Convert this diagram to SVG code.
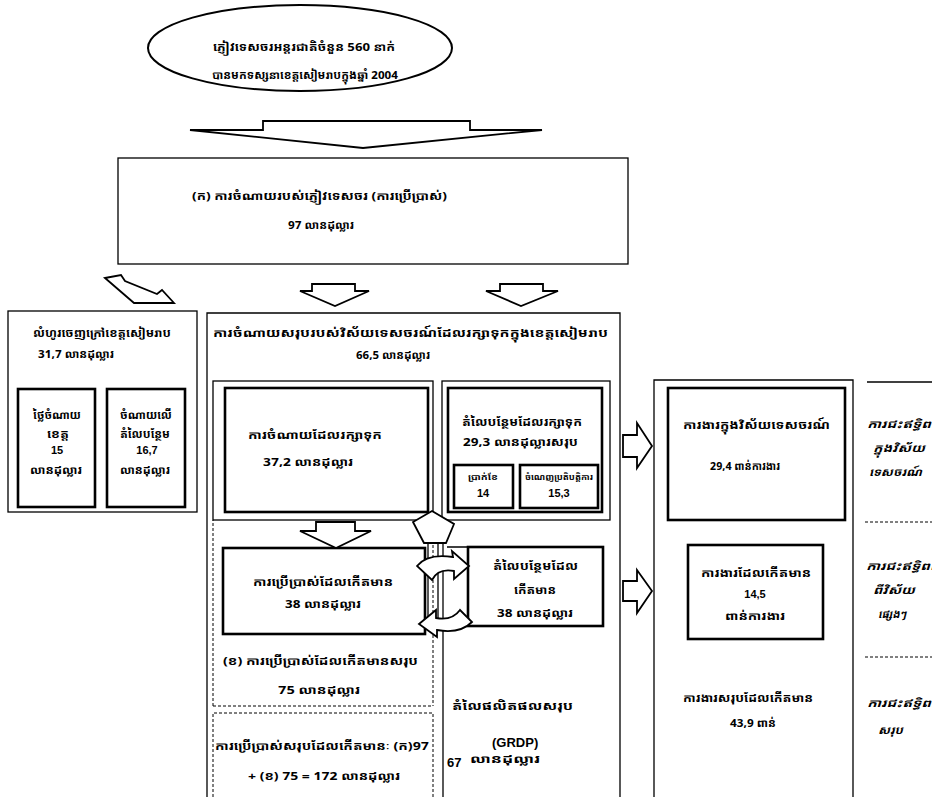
<svg xmlns="http://www.w3.org/2000/svg" width="932" height="797" viewBox="0 0 932 797">
<style>
  text{font-family:'Noto Sans Khmer','Khmer OS','Liberation Sans','DejaVu Sans',sans-serif;font-size:11px;font-weight:bold;fill:#000}
  .num{font-family:'Liberation Sans','DejaVu Sans',sans-serif;font-size:11px}
  .it{font-style:italic}
  .sm{font-size:8px}
  .f{fill:none;stroke:#000;stroke-width:1.3}
  .k{fill:#fff;stroke:#000;stroke-width:2.6}
  .d{fill:none;stroke:#000;stroke-width:1;stroke-dasharray:3 2}
  .a{fill:#fff;stroke:#000;stroke-width:1.8;stroke-linejoin:miter}
  .l{stroke:#000;stroke-width:1.3;fill:none}
</style>
<rect width="932" height="797" fill="#fff"/>

<g id="tourists">
  <ellipse cx="300" cy="48" rx="152" ry="43" fill="#fff" stroke="#000" stroke-width="2"/>
  <text x="213" y="51" textLength="182" lengthAdjust="spacingAndGlyphs">ភ្ញៀវទេសចរអន្តរជាតិចំនួន  560 នាក់</text>
  <text x="212" y="79" textLength="186" lengthAdjust="spacingAndGlyphs">បានមកទស្សនាខេត្តសៀមរាបក្នុងឆ្នាំ   2004</text>
</g>

<g id="spending">
  <rect x="118" y="158" width="510" height="106" class="f" stroke-width="2"/>
  <text x="192" y="200" textLength="255" lengthAdjust="spacingAndGlyphs">(ក) ការចំណាយរបស់ភ្ញៀវទេសចរ (ការប្រើប្រាស់)</text>
  <text x="288" y="229" textLength="66" lengthAdjust="spacingAndGlyphs">97  លានដុល្លារ</text>
</g>

<g id="outflow">
  <rect x="8" y="311" width="189" height="201" class="f"/>
  <text x="33" y="337" textLength="138" lengthAdjust="spacingAndGlyphs">លំហូរចេញក្រៅខេត្តសៀមរាប</text>
  <text x="38" y="358" textLength="76" lengthAdjust="spacingAndGlyphs">31,7 លានដុល្លារ</text>
</g>
<g id="outflow-a">
  <rect x="18" y="389" width="77" height="118" class="k"/>
  <text x="33" y="419" textLength="48" lengthAdjust="spacingAndGlyphs">ថ្លៃចំណាយ</text>
  <text x="47" y="438" textLength="22" lengthAdjust="spacingAndGlyphs">ខេត្ត</text>
  <text x="57" y="454" class="num" text-anchor="middle">15</text>
  <text x="30" y="474" textLength="52" lengthAdjust="spacingAndGlyphs">លានដុល្លារ</text>
</g>
<g id="outflow-b">
  <rect x="107" y="389" width="78" height="118" class="k"/>
  <text x="120" y="419" textLength="52" lengthAdjust="spacingAndGlyphs">ចំណាយលើ</text>
  <text x="120" y="438" textLength="50" lengthAdjust="spacingAndGlyphs">តំលៃបន្ថែម</text>
  <text x="147" y="454" class="num" text-anchor="middle">16,7</text>
  <text x="120" y="474" textLength="50" lengthAdjust="spacingAndGlyphs">លានដុល្លារ</text>
</g>

<g id="retained">
  <path d="M207,797 V313 H620 V797" class="f"/>
  <text x="213" y="337" textLength="395" lengthAdjust="spacingAndGlyphs">ការចំណាយសរុបរបស់វិស័យទេសចរណ៍ដែលរក្សាទុកក្នុងខេត្តសៀមរាប</text>
  <text x="356" y="359" textLength="74" lengthAdjust="spacingAndGlyphs">66,5  លានដុល្លារ</text>
  <rect x="213" y="381" width="220" height="139" class="f" stroke-width="1"/>
  <rect x="442" y="381" width="168" height="139" class="f" stroke-width="1"/>
</g>
<g id="retained-spend">
  <rect x="225" y="388" width="203" height="124" class="k"/>
  <text x="248" y="439" textLength="134" lengthAdjust="spacingAndGlyphs">ការចំណាយដែលរក្សាទុក</text>
  <text x="263" y="466" textLength="90" lengthAdjust="spacingAndGlyphs">37,2  លានដុល្លារ</text>
</g>
<g id="retained-value">
  <rect x="448" y="388" width="154" height="124" class="k"/>
  <text x="462" y="426" textLength="120" lengthAdjust="spacingAndGlyphs">តំលៃបន្ថែមដែលរក្សាទុក</text>
  <text x="463" y="446" textLength="115" lengthAdjust="spacingAndGlyphs">29,3 លានដុល្លារសរុប</text>
</g>
<g id="wages">
  <rect x="454" y="465" width="59" height="43" class="k" stroke-width="2"/>
  <text x="468" y="480" class="sm" textLength="30" lengthAdjust="spacingAndGlyphs">ប្រាក់ខែ</text>
  <text x="483" y="497" class="num" text-anchor="middle">14</text>
</g>
<g id="profit">
  <rect x="520" y="465" width="78" height="43" class="k" stroke-width="2"/>
  <text x="525" y="480" class="sm" textLength="68" lengthAdjust="spacingAndGlyphs">ចំណេញប្រតិបត្តិការ</text>
  <text x="559" y="497" class="num" text-anchor="middle">15,3</text>
</g>

<g id="induced-use">
  <path d="M213,706 V520 M433,520 V706 M213,706 H433" class="d"/>
  <rect x="223" y="548" width="202" height="86" class="k"/>
  <text x="253" y="586" textLength="140" lengthAdjust="spacingAndGlyphs">ការប្រើប្រាស់ដែលកើតមាន</text>
  <text x="285" y="608" textLength="76" lengthAdjust="spacingAndGlyphs">38  លានដុល្លារ</text>
  <text x="223" y="665" textLength="195" lengthAdjust="spacingAndGlyphs">(ខ) ការប្រើប្រាស់ដែលកើតមានសរុប</text>
  <text x="278" y="694" textLength="82" lengthAdjust="spacingAndGlyphs">75  លានដុល្លារ</text>
</g>
<g id="total-use">
  <path d="M213,797 V713 H433 V797" class="d"/>
  <text x="215" y="750" textLength="214" lengthAdjust="spacingAndGlyphs">ការប្រើប្រាស់សរុបដែលកើតមានៈ (ក)97</text>
  <text x="248" y="780" textLength="152" lengthAdjust="spacingAndGlyphs">+ (ខ) 75 = 172 លានដុល្លារ</text>
</g>
<g id="induced-value">
  <path d="M443,520 V797" class="l"/>
  <rect x="468" y="547" width="135" height="79" class="k" stroke-width="2.2"/>
  <text x="493" y="570" textLength="85" lengthAdjust="spacingAndGlyphs">តំលៃបន្ថែមដែល</text>
  <text x="514" y="594" textLength="42" lengthAdjust="spacingAndGlyphs">កើតមាន</text>
  <text x="497" y="617" textLength="76" lengthAdjust="spacingAndGlyphs">38  លានដុល្លារ</text>
</g>
<g id="grdp">
  <text x="452" y="710" textLength="121" lengthAdjust="spacingAndGlyphs">តំលៃផលិតផលសរុប</text>
  <text x="492" y="747" class="num" style="font-size:13px">(GRDP)</text>
  <text x="447" y="767" class="num" style="font-size:13px">67</text>
  <text x="470" y="763" textLength="70" lengthAdjust="spacingAndGlyphs">លានដុល្លារ</text>
</g>

<g id="jobs">
  <path d="M654,797 V380 H853 V797" class="f"/>
  <rect x="668" y="388" width="177" height="132" class="k"/>
  <text x="683" y="429" textLength="147" lengthAdjust="spacingAndGlyphs">ការងារក្នុងវិស័យទេសចរណ៍</text>
  <text x="710" y="470" textLength="70" lengthAdjust="spacingAndGlyphs">29,4 ពាន់ការងារ</text>
</g>
<g id="induced-jobs">
  <rect x="688" y="545" width="135" height="94" class="k"/>
  <text x="701" y="577" textLength="110" lengthAdjust="spacingAndGlyphs">ការងារដែលកើតមាន</text>
  <text x="755" y="598" class="num" text-anchor="middle">14,5</text>
  <text x="725" y="620" textLength="60" lengthAdjust="spacingAndGlyphs">ពាន់ការងារ</text>
  <text x="683" y="702" textLength="130" lengthAdjust="spacingAndGlyphs">ការងារសរុបដែលកើតមាន</text>
  <text x="730" y="727" textLength="46" lengthAdjust="spacingAndGlyphs">43,9 ពាន់</text>
</g>

<g id="impact">
  <path d="M867,382 H932" class="l"/>
  <path d="M865,522 H932 M865,657 H932" class="d"/>
  <text x="867" y="428" class="it" textLength="78" lengthAdjust="spacingAndGlyphs">ការជះឥទ្ធិពល</text>
  <text x="873" y="452" class="it" textLength="52" lengthAdjust="spacingAndGlyphs">ក្នុងវិស័យ</text>
  <text x="869" y="476" class="it" textLength="53" lengthAdjust="spacingAndGlyphs">ទេសចរណ៍</text>
  <text x="866" y="570" class="it" textLength="78" lengthAdjust="spacingAndGlyphs">ការជះឥទ្ធិពល</text>
  <text x="873" y="594" class="it" textLength="42" lengthAdjust="spacingAndGlyphs">ពីវិស័យ</text>
  <text x="878" y="618" class="it" textLength="28" lengthAdjust="spacingAndGlyphs">ផ្សេងៗ</text>
  <text x="867" y="707" class="it" textLength="78" lengthAdjust="spacingAndGlyphs">ការជះឥទ្ធិពល</text>
  <text x="878" y="734" class="it" textLength="25" lengthAdjust="spacingAndGlyphs">សរុប</text>
</g>

<g id="connectors">
  <polygon class="a" points="190,130 263,130 263,121 470,121 470,130 542,130 363,148"/>
  <polygon class="a" points="105,278 121,275 125,281 157,294 162,290 174,303 134,303"/>
  <polygon class="a" points="312,284 355,284 355,291 369,291 335,306 300,291 312,291"/>
  <polygon class="a" points="500,284 543,284 543,291 558,291 521,306 486,291 500,291"/>
  <polygon class="a" points="316,522 355,522 355,531 371,531 336,548 300,531 316,531"/>
  <polygon class="a" points="432,511 454,524 446,543 424,543 413,522"/>
  <path class="l" d="M428,543 V628 M438,543 V628 M447,547 H468"/>
  <path class="a" d="M417,566 C425,556 440,555 453,557 L452,551 L469,566 L454,579 L454,571 C443,569 436,572 432,580 Z"/>
  <path class="a" d="M472,622 C462,632 448,632 437,630 L437,637 L419,624 L436,610 L436,618 C447,620 455,617 460,610 Z"/>
  <polygon class="a" points="623,435 637,435 637,423 652,446 637,468 637,457 623,457"/>
  <polygon class="a" points="623,581 637,581 637,570 652,591 637,613 637,601 623,601"/>
</g>
</svg>
